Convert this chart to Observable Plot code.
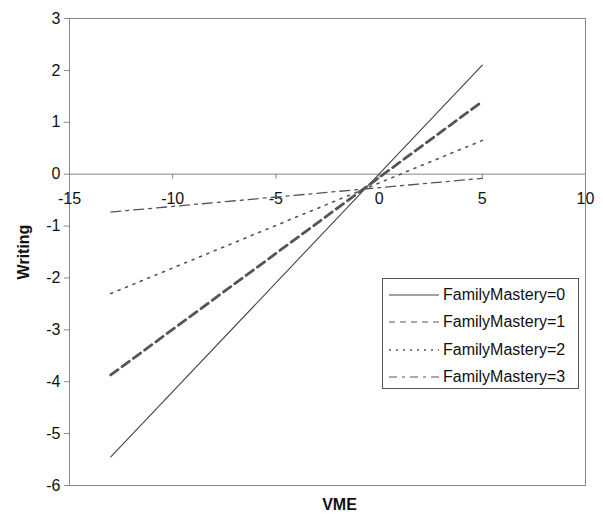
<!DOCTYPE html>
<html><head><meta charset="utf-8">
<script src="https://cdn.jsdelivr.net/npm/d3@7"></script>
<script src="https://cdn.jsdelivr.net/npm/@observablehq/plot@0.6"></script>
<style>
body{margin:0;background:#fff;font-family:"Liberation Sans",Arial,sans-serif;}
#wrap{position:relative;width:603px;height:525px;}
#legend{position:absolute;left:382px;top:278px;width:197px;height:111px;border:1px solid #555;background:#fff;box-sizing:border-box;}
#legend .row{position:absolute;left:5px;height:20px;display:flex;align-items:center;font-size:16px;color:#111;}
#legend svg{margin-right:3px;}
</style></head><body>
<div id="wrap"></div>
<script>
const series = ["FamilyMastery=0","FamilyMastery=1","FamilyMastery=2","FamilyMastery=3"];
const vmeStart = -13, vmeEnd = 5;
const writingStart = [-5.45, -3.87, -2.30, -0.73];
const writingEnd = [2.10, 1.40, 0.65, -0.08];
const xTicks = [-15, -10, -5, 0, 5, 10];
const yTicks = [-6, -5, -4, -3, -2, -1, 0, 1, 2, 3];

const styles = [
  {stroke:"#444", strokeWidth:1.1, dash:null, legendDash:null, legendWidth:1.1},
  {stroke:"#555", strokeWidth:2.8, dash:"9,5", legendDash:"6,5", legendWidth:1.1},
  {stroke:"#555", strokeWidth:1.6, dash:"2,6", legendDash:"2,5", legendWidth:1.3},
  {stroke:"#555", strokeWidth:1.3, dash:"10,5,3,5", legendDash:"8,5,3,5", legendWidth:1.1}
];

const data = [];
series.forEach((s,i)=>{
  data.push({s, i, x: vmeStart, y: writingStart[i]});
  data.push({s, i, x: vmeEnd, y: writingEnd[i]});
});

const lineMarks = series.map((s,i)=>Plot.line(data.filter(d=>d.i===i), {
  x:"x", y:"y", stroke: styles[i].stroke, strokeWidth: styles[i].strokeWidth,
  strokeDasharray: styles[i].dash ?? undefined
}));

const chart = Plot.plot({
  width: 603, height: 525,
  marginLeft: 69, marginRight: 18, marginTop: 18, marginBottom: 40,
  style: {fontFamily: '"Liberation Sans", Arial, sans-serif', fontSize: "16px", color:"#111", background:"#fff"},
  x: {domain: [-15, 10], axis: null},
  y: {domain: [-6, 3], axis: null},
  marks: [
    Plot.frame({stroke:"#888"}),
    Plot.ruleY([0], {stroke:"#888"}),
    Plot.ruleX(xTicks, {x: d=>d, y1: 0, y2: 0, insetBottom: -5, stroke:"#888"}),
    Plot.text(xTicks, {x: d=>d, y: 0, dy: 25, text: d=>String(d), fontSize: 16, fill:"#111"}),
    Plot.axisY({ticks: yTicks, tickFormat: d=>String(d), tickSize: 5, tickPadding: 4, stroke:"#888", fontSize: 16,
      label: "Writing", labelAnchor: "center", labelArrow: "none", labelOffset: 52}),
    ...lineMarks,
    Plot.text(["VME"], {frameAnchor: "bottom", dy: 24, dx: 12, fontWeight: "bold", fontSize: 16, fill:"#111"})
  ]
});
document.getElementById("wrap").appendChild(chart);
chart.querySelectorAll('g[aria-label="y-axis label"] text').forEach(t=>{t.setAttribute("font-weight","bold");});
chart.querySelectorAll('g[aria-label="y-axis tick label"] text').forEach(t=>{t.setAttribute("fill","#111");});

const legend = document.createElement("div");
legend.id = "legend";
series.forEach((s,i)=>{
  const row = document.createElement("div");
  row.className = "row";
  row.style.top = (6 + i*27.3) + "px";
  const st = styles[i];
  row.innerHTML = `<svg width="52" height="10"><line x1="1" y1="5" x2="51" y2="5" stroke="${st.stroke}" stroke-width="${st.legendWidth}" ${st.legendDash?`stroke-dasharray="${st.legendDash}"`:""}/></svg><span>${s}</span>`;
  legend.appendChild(row);
});
document.getElementById("wrap").appendChild(legend);
</script>
</body></html>
